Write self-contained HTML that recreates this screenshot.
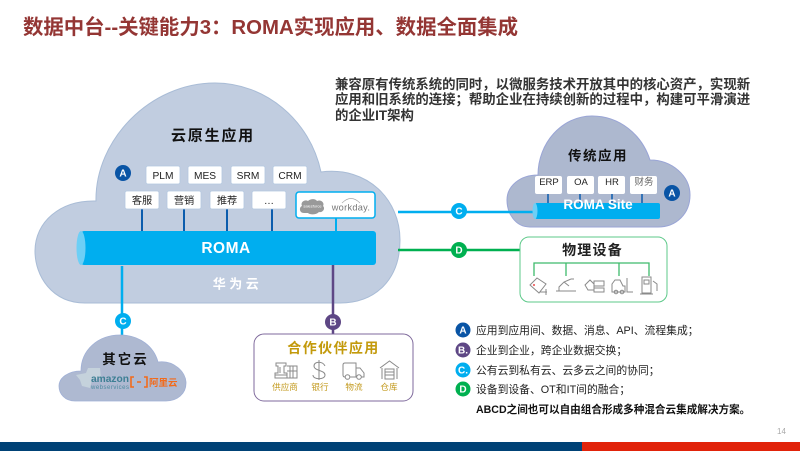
<!DOCTYPE html>
<html><head><meta charset="utf-8"><style>
html,body{margin:0;padding:0;background:#fff;width:800px;height:451px;overflow:hidden}
svg{display:block}
text{font-family:"Liberation Sans","Noto Sans CJK SC",sans-serif}
.b{font-weight:700}
.box{fill:#fff;stroke:#b4c8e0;stroke-width:.8}
.t{font-size:10.2px;fill:#222;text-anchor:middle}
.l{font-size:10.8px;fill:#222}
.bd{font-size:10px;font-weight:700;fill:#fff;text-anchor:middle}
.g{font-size:8.6px;fill:#c39a1e;text-anchor:middle}
.ic{fill:none;stroke:#8a8a8a;stroke-width:1}
</style></head><body>
<svg width="800" height="451" viewBox="0 0 800 451" xmlns="http://www.w3.org/2000/svg">
<rect width="800" height="451" fill="#fff"/>
<text x="23" y="34" class="b" font-size="20.4" fill="#943634">数据中台--关键能力3：ROMA实现应用、数据全面集成</text>

<g class="b" font-size="13.4" fill="#333">
<text x="335" y="89">兼容原有传统系统的同时，以微服务技术开放其中的核心资产，实现新</text>
<text x="335" y="104">应用和旧系统的连接；帮助企业在持续创新的过程中，构建可平滑演进</text>
<text x="335" y="120">的企业IT架构</text>
</g>

<!-- main cloud -->
<path d="M85 303C52 303 35 276 35 251C35 222 60 200 96 201C95 140 150 83 215 83C265 83 310 120 321 172C368 166 400 200 400 240C400 280 375 303 340 303Z" fill="#c1cde0" stroke="#a9bcd6" stroke-width="1"/>
<text x="213" y="140.500" class="b" font-size="15" letter-spacing="1.800" text-anchor="middle" fill="#111">云原生应用</text>

<g stroke="#0b5cad" stroke-width="2">
<line x1="142" y1="208" x2="142" y2="232"/><line x1="184" y1="208" x2="184" y2="232"/><line x1="227" y1="208" x2="227" y2="232"/><line x1="272" y1="208" x2="272" y2="232"/>
</g>
<line x1="336" y1="218" x2="336" y2="232" stroke="#00aeef" stroke-width="2"/>

<g>
<rect x="146" y="166" width="34" height="18" rx="2" class="box"/><text x="163" y="179" class="t">PLM</text>
<rect x="188" y="166" width="34" height="18" rx="2" class="box"/><text x="205" y="179" class="t">MES</text>
<rect x="231" y="166" width="34" height="18" rx="2" class="box"/><text x="248" y="179" class="t">SRM</text>
<rect x="273" y="166" width="34" height="18" rx="2" class="box"/><text x="290" y="179" class="t">CRM</text>
<rect x="125" y="191" width="34" height="18" rx="2" class="box"/><text x="142" y="204" class="t">客服</text>
<rect x="167" y="191" width="34" height="18" rx="2" class="box"/><text x="184" y="204" class="t">营销</text>
<rect x="210" y="191" width="34" height="18" rx="2" class="box"/><text x="227" y="204" class="t">推荐</text>
<rect x="252" y="191" width="34" height="18" rx="2" class="box"/><text x="269" y="204" class="t">…</text>
</g>
<rect x="296" y="192" width="79" height="26" rx="3" fill="#fff" stroke="#00aeef" stroke-width="1.500"/>
<path d="M304 213C299 213 299 207 302 206C300 202 305 199 308 201C311 198 316 199 317 201C321 199 325 203 323 206C326 209 322 213 319 212C316 215 310 215 308 213Z" fill="#999"/>
<text x="312.500" y="207.500" font-size="4" fill="#fff" text-anchor="middle">salesforce</text>
<text x="351" y="210.500" font-size="9.200" fill="#777" text-anchor="middle" letter-spacing=".3">workday.</text>
<path d="M342 203Q351 194 360 203" fill="none" stroke="#aaa" stroke-width=".8"/>

<!-- ROMA pipe -->
<rect x="81" y="231" width="295" height="34" rx="3" fill="#00aeef"/>
<ellipse cx="81" cy="248" rx="4.500" ry="17" fill="#6dcff6"/>
<text x="226" y="253" class="b" font-size="15.500" fill="#fff" text-anchor="middle" letter-spacing=".5">ROMA</text>
<text x="237.500" y="288.500" class="b" font-size="13" fill="#fff" text-anchor="middle" letter-spacing="3.500">华为云</text>

<!-- connectors -->
<line x1="122" y1="266" x2="122" y2="336" stroke="#00aeef" stroke-width="2.500"/>
<line x1="333" y1="265" x2="333" y2="334" stroke="#5e4785" stroke-width="2.500"/>

<!-- traditional cloud -->
<path d="M530 227C515 227 507 213 507 200C507 186 520 175 538 175C538 143 562 116 592 116C620 116 642 135 650 160C672 160 690 176 690 195C690 214 676 227 658 227Z" fill="#adb8cf" stroke="#9aa5d6" stroke-width="1"/>
<text x="598" y="160.500" class="b" font-size="13.500" letter-spacing="1.500" text-anchor="middle" fill="#111">传统应用</text>
<g fill="#fff">
<rect x="535" y="176" width="27" height="18" rx="2"/><rect x="567" y="176" width="27" height="18" rx="2"/><rect x="598" y="176" width="27" height="18" rx="2"/><rect x="630" y="176" width="27" height="18" rx="2"/>
</g>
<text x="549" y="185" font-size="9.500" text-anchor="middle" fill="#222">ERP</text>
<text x="581" y="185" font-size="9.500" text-anchor="middle" fill="#222">OA</text>
<text x="612" y="185" font-size="9.500" text-anchor="middle" fill="#222">HR</text>
<text x="644" y="185" font-size="9.500" text-anchor="middle" fill="#666">财务</text>
<g stroke="#0b5cad" stroke-width="1.500">
<line x1="548" y1="194" x2="548" y2="204"/><line x1="580" y1="194" x2="580" y2="204"/><line x1="612" y1="194" x2="612" y2="204"/><line x1="642" y1="194" x2="642" y2="204"/>
</g>
<line x1="398" y1="212" x2="536" y2="212" stroke="#00aeef" stroke-width="2.500"/>
<rect x="535" y="203" width="125" height="16" rx="2" fill="#00aeef"/>
<ellipse cx="535" cy="211" rx="2.500" ry="8" fill="#6dcff6"/>
<text x="598" y="209" class="b" font-size="13.500" fill="#fff" text-anchor="middle">ROMA Site</text>

<!-- physical -->
<line x1="398" y1="250" x2="520" y2="250" stroke="#00b050" stroke-width="2.500"/>
<rect x="520" y="237" width="147" height="65" rx="9" fill="#fff" stroke="#5ec98a" stroke-width="1"/>
<text x="592.500" y="255" class="b" font-size="14" letter-spacing="1.200" text-anchor="middle" fill="#222">物理设备</text>
<path d="M534 276V263H649V276M566 263V276M619 263V276" fill="none" stroke="#3ebb6c" stroke-width="1.300"/>
<g class="ic" stroke-width=".8">
<path d="M530 285L537 278L546 284L539 293Z"/><path d="M546 289V295M540 292H547"/>
<path d="M556 291H576M559 291V287L564 282L571 279M564 282L569 286M571 279H574"/>
<path d="M585 285L590 280L594 284V290H588ZM594 281H604V286H594ZM594 288H604V292H594Z"/>
<path d="M612 292V284L615 280H620L623 286H625V292ZM627 278V292H633"/><circle cx="616" cy="292" r="1.800"/><circle cx="622" cy="292" r="1.800"/>
<rect x="642" y="277" width="9" height="16"/><path d="M644 280H649V284H644ZM640 294H653M653 281L657 284V291"/>
</g>
<circle cx="534" cy="285" r="1.100" fill="#e66"/>

<!-- other cloud -->
<path d="M75 401C65 401 59 394 59 386C59 378 68 371 81 371C81 350 98 335 120 335C140 335 154 347 158 362C174 360 186 372 186 383C186 394 177 401 166 401Z" fill="#aeb9d1" stroke="#a0b0d6" stroke-width=".8"/>
<text x="125.500" y="364" class="b" font-size="13.500" letter-spacing="2" text-anchor="middle" fill="#111">其它云</text>
<path d="M76 375L86 373L88 368H100L101 378L92 380L90 388L82 386L80 380Z" fill="#c5d2dc"/>
<text x="91" y="382" class="b" font-size="10.500" fill="#3d7f94" textLength="38" lengthAdjust="spacingAndGlyphs">amazon</text>
<text x="91" y="389" font-size="6" fill="#4e8aa0" textLength="38">webservices</text>
<path d="M134 377H131V387H134M144 377H147V387H144M137 382H141" fill="none" stroke="#f26a1b" stroke-width="1.600"/>
<text x="149" y="386" class="b" font-size="9.500" fill="#f26a1b">阿里云</text>

<!-- partner -->
<rect x="254" y="334" width="159" height="67" rx="10" fill="#fff" stroke="#7f6a9c" stroke-width="1"/>
<text x="333.500" y="353" class="b" font-size="14" letter-spacing="1.400" text-anchor="middle" fill="#c39a0c">合作伙伴应用</text>
<g class="ic" stroke-width=".9">
<path d="M276 363H286V366H284V373H287V378H275V373H278V366H276ZM280 367V373M275 375H287M287 366H297V378H287M290 366V378M293 366V378M287 371H297"/>
<path d="M319 360V380M325 366C323 361 314 361 314 366C314 371 325 370 325 375C325 380 313 380 313 375"/>
<path d="M345 363H356V377H345Q343 377 343 375V365Q343 363 345 363ZM356 368H360L364 373V377H356"/><circle cx="347.500" cy="377" r="2.300" fill="#fff"/><circle cx="359" cy="377" r="2.300" fill="#fff"/>
<path d="M380 368L389.500 361L399 368M382 368V379M397 368V379M385 369H394V379H385ZM385 372H394M385 375H394"/>
</g>
<text x="285" y="390" class="g">供应商</text><text x="320" y="390" class="g">银行</text><text x="354" y="390" class="g">物流</text><text x="389" y="390" class="g">仓库</text>

<!-- badges -->
<circle cx="123" cy="173" r="8" fill="#0954a5"/><text x="123" y="176.500" class="bd">A</text>
<circle cx="672" cy="193" r="8" fill="#0954a5"/><text x="672" y="196.500" class="bd">A</text>
<circle cx="459" cy="211" r="8" fill="#00aeef"/><text x="459" y="214.500" class="bd">C</text>
<circle cx="459" cy="250" r="8" fill="#00b050"/><text x="459" y="253.500" class="bd">D</text>
<circle cx="123" cy="321" r="8" fill="#00aeef"/><text x="123" y="324.500" class="bd">C</text>
<circle cx="333" cy="322" r="8" fill="#5e4785"/><text x="333" y="325.500" class="bd">B</text>

<!-- legend -->
<circle cx="463" cy="330" r="7.500" fill="#0954a5"/><text x="463" y="333.500" class="bd">A</text>
<circle cx="463" cy="350" r="7.500" fill="#5e4785"/><text x="463" y="353.500" class="bd">B.</text>
<circle cx="463" cy="370" r="7.500" fill="#00aeef"/><text x="463" y="373.500" class="bd">C.</text>
<circle cx="463" cy="389" r="7.500" fill="#00b050"/><text x="463" y="392.500" class="bd">D</text>
<text x="476" y="334" class="l">应用到应用间、数据、消息、API、流程集成；</text>
<text x="476" y="354" class="l">企业到企业，跨企业数据交换；</text>
<text x="476" y="374" class="l">公有云到私有云、云多云之间的协同；</text>
<text x="476" y="393" class="l">设备到设备、OT和IT间的融合；</text>
<text x="476" y="413" class="b" font-size="10.600" fill="#111">ABCD之间也可以自由组合形成多种混合云集成解决方案。</text>

<text x="781.500" y="434" font-size="8" fill="#aaa" text-anchor="middle">14</text>
<rect x="0" y="442" width="582" height="9" fill="#004276"/>
<rect x="582" y="442" width="218" height="9" fill="#e1230a"/>
</svg>
</body></html>
